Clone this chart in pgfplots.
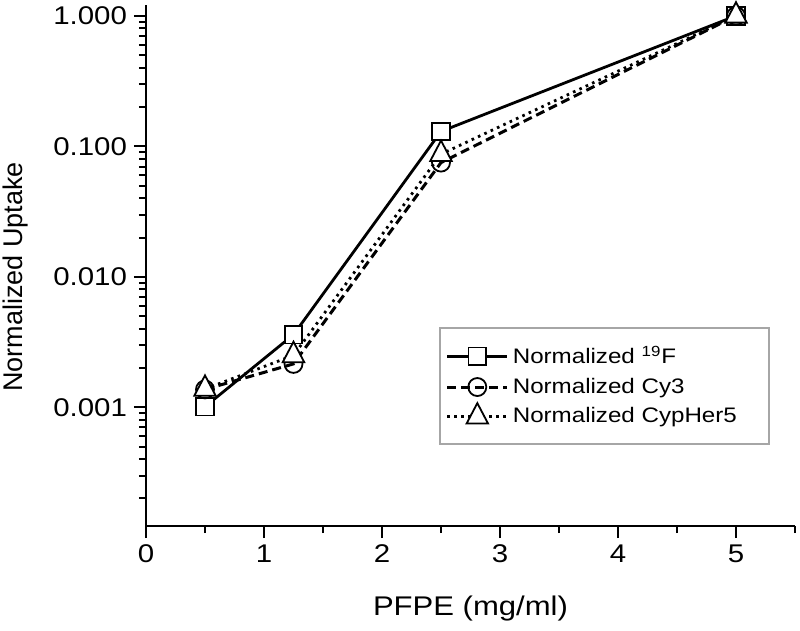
\documentclass[border=0pt]{standalone}
\usepackage{fontspec}
\setmainfont{Liberation Sans}[FakeStretch=1.15]
\newfontfamily\ylabfont{Liberation Sans}
\usepackage{pgfplots}
\pgfplotsset{compat=1.18}
\begin{document}
\begin{tikzpicture}
\begin{axis}[
  scale only axis,
  width=324.5bp, height=260.5bp,
  ymode=log,
  xmin=0, xmax=5.5,
  ymin=1.23e-4, ymax=1.21,
  axis lines*=left,
  axis line style={line width=1.2bp},
  tick align=outside,
  tick style={line width=1bp, black},
  major tick length=6bp,
  minor tick length=3.5bp,
  xtick={0,1,2,3,4,5},
  minor xtick={0.5,1.5,2.5,3.5,4.5,5.5},
  ytick={0.001,0.01,0.1,1},
  yticklabels={0.001,0.010,0.100,1.000},
  minor ytick={0.0002,0.0003,0.0004,0.0005,0.0006,0.0007,0.0008,0.0009,
    0.002,0.003,0.004,0.005,0.006,0.007,0.008,0.009,
    0.02,0.03,0.04,0.05,0.06,0.07,0.08,0.09,
    0.2,0.3,0.4,0.5,0.6,0.7,0.8,0.9},
  /pgf/number format/assume math mode=true,
  tick label style={font=\fontsize{12.8bp}{15bp}\selectfont},
  xlabel={PFPE (mg/ml)},
  ylabel={Normalized Uptake},
  xlabel style={font=\fontsize{13.5bp}{16bp}\selectfont, at={(axis description cs:0.5,-0.159)}, anchor=center},
  ylabel style={font=\fontsize{13.5bp}{16bp}\ylabfont, at={(axis description cs:-0.2018,0.478)}, anchor=center},
  legend style={at={(rel axis cs:0.4515,0.382)}, anchor=north west,
    draw=gray!70, line width=0.8bp, font=\fontsize{10.5bp}{12.6bp}\selectfont,
    inner ysep=7bp, inner xsep=3bp, row sep=1.5bp},
  legend cell align=left,
  legend image code/.code={\draw[mark repeat=2,mark phase=2] plot coordinates {(0bp,0bp) (15bp,0bp) (30bp,0bp)};},
]
\addplot[black, line width=1.4bp, mark=square*, mark size=4.4bp,
  mark options={solid, fill=white, line width=0.9bp}]
  coordinates {(0.5,0.00101) (1.25,0.0036) (2.5,0.130) (5,1.0)};
\addlegendentry{Normalized \textsuperscript{19}F}
\addplot[black, line width=1.5bp, dash pattern=on 4.5bp off 2.5bp, mark=o, mark size=4.5bp,
  mark options={solid, fill=white, line width=0.9bp}]
  coordinates {(0.5,0.00137) (1.25,0.00215) (2.5,0.075) (5,1.0)};
\addlegendentry{Normalized Cy3}
\addplot[black, line width=1.4bp, dash pattern=on 1.3bp off 2.2bp, mark=triangle*, mark size=6.2bp,
  mark options={solid, fill=white, line width=0.9bp, yscale=1.1}]
  coordinates {(0.5,0.00138) (1.25,0.0025) (2.5,0.087) (5,1.0)};
\addlegendentry{Normalized CypHer5\rule{11bp}{0pt}}
\end{axis}
\pgfresetboundingbox
\path[use as bounding box] ([shift={(-73bp,-52bp)}]current axis.south west) rectangle ([shift={(2.5bp,2.5bp)}]current axis.north east);
\end{tikzpicture}
\end{document}
